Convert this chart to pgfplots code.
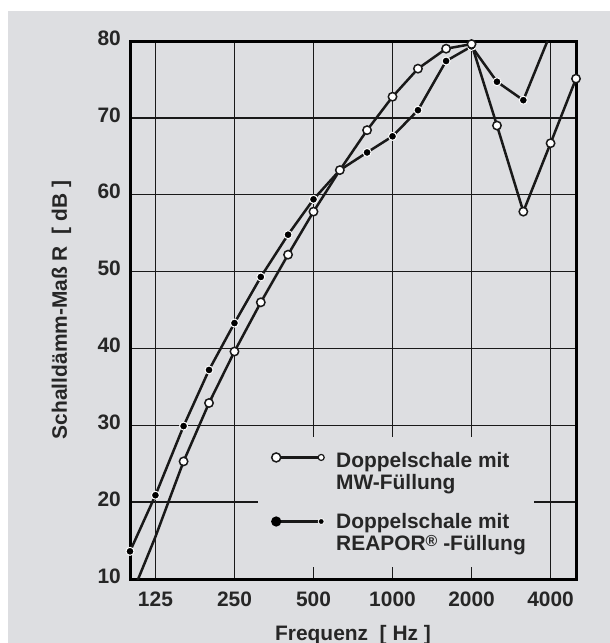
\documentclass[border=0pt]{standalone}
\usepackage{fontspec}
\setmainfont{Liberation Sans}
\usepackage{pgfplots}
\pgfplotsset{compat=1.18}
\definecolor{panel}{RGB}{221,222,225}

% Schalldaemm-Mass R [dB], Terzmittenfrequenzen
\pgfplotstableread{
f     R
100   7.4
125   15.5
160   25.3
200   32.9
250   39.6
315   46.0
400   52.2
500   57.8
630   63.2
800   68.4
1000  72.75
1250  76.4
1600  79.0
2000  79.6
2500  69.0
3150  57.8
4000  66.7
5000  75.1
}\mwdata
\pgfplotstableread{
f     R
100   13.6
125   20.9
160   29.9
200   37.2
250   43.3
315   49.3
400   54.8
500   59.4
630   63.2
800   65.5
1000  67.6
1250  71.0
1600  77.4
2000  79.3
2500  74.7
3150  72.3
4000  81.0
}\reapordata

\begin{document}
\begin{tikzpicture}
\useasboundingbox (-130bp,-64bp) rectangle (480bp,579bp);
\fill[panel] (-122bp,-64bp) rectangle (480bp,568bp);
\begin{axis}[
  scale only axis,
  width=446bp, height=538bp,
  xmode=log, xmin=100, xmax=5000,
  ymin=10, ymax=80,
  xtick={125,250,500,1000,2000,4000},
  xticklabels={125,250,500,1000,2000,4000},
  ytick={10,20,...,80},
  minor xtick={},
  grid=major,
  major grid style={black!90, line width=1.5bp},
  axis line style={line width=3bp},
  major tick length=0pt, minor tick length=0pt,
  /pgf/number format/assume math mode=true,
  tick label style={font=\fontsize{21}{24}\selectfont\bfseries, text=black!85},
  xticklabel style={anchor=base, yshift=-27bp},
  yticklabel style={anchor=east, inner sep=0pt, xshift=-9bp, yshift=3bp},
  every axis x label/.style={at={(axis description cs:0.5,-0.1134)}, anchor=base},
  every axis y label/.style={at={(axis description cs:-0.1413,0.5)}, rotate=90, anchor=base},
  label style={font=\fontsize{21}{24}\selectfont\bfseries, text=black!85},
  xlabel={Frequenz\ \ [ Hz ]},
  ylabel={Schalldämm-Maß R\ \ [ dB ]},
  legend style={at={(axis description cs:0.287,0.264)}, anchor=north west,
    fill=panel, draw=none, inner xsep=6bp, inner ysep=13bp,
    font=\fontsize{21}{22}\selectfont\bfseries, text=black!85,
    row sep=19bp,
    cells={anchor=west, align=left}},
  legend cell align=left,
]
\addplot[black!90, line width=2.5bp, mark=*, mark size=4bp, mark indices={1,...,16},
  mark options={fill=black, draw=white, line width=1bp}, forget plot]
  table[x=f, y=R] {\reapordata};
\addplot[black!90, line width=2.5bp, mark=*, mark size=4.2bp, mark indices={2,...,18},
  mark options={fill=white, draw=black!90, line width=1.5bp}, forget plot]
  table[x=f, y=R] {\mwdata};
\addlegendimage{black!90, line width=2.5bp, legend image code/.code={
    \path[draw=none, fill=none] (-12bp,-14bp) rectangle (58bp,14bp);
    \draw[black!90, line width=2.5bp] (0bp,14bp) -- (45bp,14bp);
    \draw[black!90, fill=white, line width=1.5bp] (0bp,14bp) circle (4.5bp);
    \draw[black!90, fill=white, line width=1.2bp] (45bp,14bp) circle (3bp);
  }}
\addlegendentry{Doppelschale mit\\MW-Füllung}
\addlegendimage{black!90, line width=2.5bp, legend image code/.code={
    \path[draw=none, fill=none] (-12bp,-11.5bp) rectangle (58bp,11.5bp);
    \draw[black!90, line width=2.5bp] (0bp,11.5bp) -- (45bp,11.5bp);
    \fill[black] (0bp,11.5bp) circle (3.8bp);
    \draw[white, fill=black, line width=0.8bp] (45bp,11.5bp) circle (3bp);
  }}
\addlegendentry{Doppelschale mit\\REAPOR\raisebox{4bp}{\fontsize{16}{16}\selectfont ®}\ -Füllung}
\end{axis}
\end{tikzpicture}
\end{document}
